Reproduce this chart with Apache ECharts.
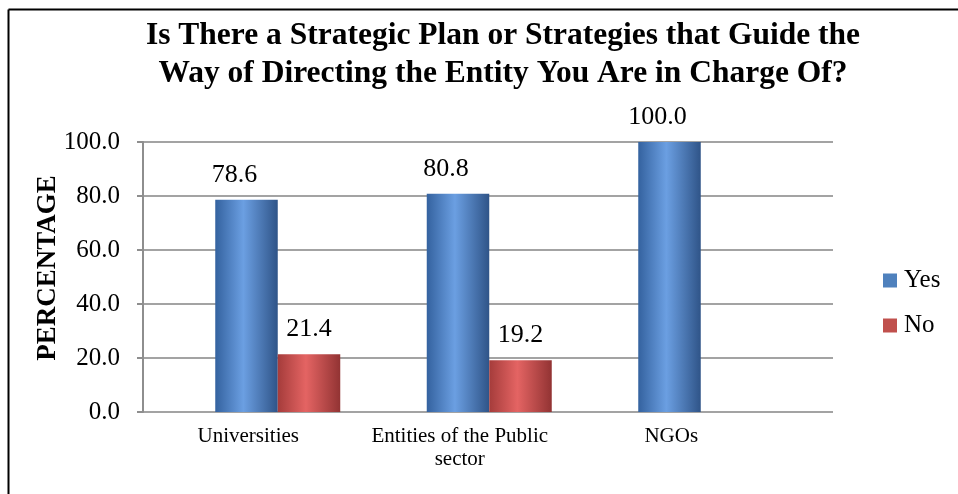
<!DOCTYPE html>
<html>
<head>
<meta charset="utf-8">
<script src="https://cdn.jsdelivr.net/npm/echarts@6/dist/echarts.min.js"></script>
<style>
  html, body { margin: 0; padding: 0; background: #fff; }
  #chart { width: 958px; height: 494px; }
</style>
</head>
<body>
<div id="chart"></div>
<script>
// ---- data ----
const titleLines = ['Is There a Strategic Plan or Strategies that Guide the', 'Way of Directing the Entity You Are in Charge Of?'];
const yAxisTitle = 'PERCENTAGE';
const categories = ['Universities', 'Entities of the Public\nsector', 'NGOs'];
const seriesNames = ['Yes', 'No'];
const yesValues = [78.6, 80.8, 100.0];
const noValues = [21.4, 19.2, null];
const yMin = 0, yMax = 100, yStep = 20;

const SERIF = 'Liberation Serif';

function grad(c0, c1, c2) {
  return new echarts.graphic.LinearGradient(0, 0, 1, 0, [
    { offset: 0, color: c0 },
    { offset: 0.45, color: c1 },
    { offset: 1, color: c2 }
  ]);
}

const chart = echarts.init(document.getElementById('chart'), null, { renderer: 'canvas' });

const option = {
  backgroundColor: '#fff',
  animation: false,
  textStyle: { fontFamily: SERIF, color: '#000' },
  grid: [
    { left: 143, right: 125, top: 142, bottom: 82, outerBoundsMode: 'none' },
    { left: 172, width: 634.5, top: 142, bottom: 82, outerBoundsMode: 'none' }
  ],
  legend: {
    orient: 'vertical',
    left: 883,
    top: 268,
    padding: 0,
    itemWidth: 14,
    itemHeight: 14,
    itemGap: 20,
    icon: 'rect',
    textStyle: { fontFamily: SERIF, fontSize: 25, color: '#000', padding: [0, 0, 0, 2] },
    data: [
      { name: seriesNames[0], itemStyle: { color: '#4f81bd' } },
      { name: seriesNames[1], itemStyle: { color: '#c0504d' } }
    ]
  },
  xAxis: [
    { gridIndex: 0, type: 'category', data: categories, show: false },
    {
      gridIndex: 1, type: 'category', data: categories,
      axisLine: { show: false }, axisTick: { show: false },
      axisLabel: {
        interval: 0, margin: 13, fontFamily: SERIF, fontSize: 21, lineHeight: 23,
        color: '#000', padding: [0, 59, 0, 0]
      }
    }
  ],
  yAxis: [
    {
      gridIndex: 0, type: 'value', min: yMin, max: yMax, interval: yStep,
      axisLine: { show: true, lineStyle: { color: '#8e8e8e', width: 2 } },
      axisTick: { show: true, length: 6, lineStyle: { color: '#8e8e8e', width: 2 } },
      axisLabel: {
        margin: 23, fontFamily: SERIF, fontSize: 25, color: '#000',
        formatter: v => v.toFixed(1)
      },
      splitLine: { show: true, lineStyle: { color: '#a3a3a3', width: 2 } }
    },
    { gridIndex: 1, type: 'value', min: yMin, max: yMax, interval: yStep, show: false }
  ],
  series: [
    {
      name: seriesNames[0], type: 'bar', xAxisIndex: 1, yAxisIndex: 1,
      data: yesValues, barWidth: 62.5, barGap: '0%',
      itemStyle: { color: grad('#34629f', '#6b9fe2', '#2f5488') },
      label: {
        show: true, position: 'top', distance: 12, offset: [-12, 0],
        fontFamily: SERIF, fontSize: 26, color: '#000',
        formatter: p => p.value.toFixed(1)
      }
    },
    {
      name: seriesNames[1], type: 'bar', xAxisIndex: 1, yAxisIndex: 1,
      data: noValues, barWidth: 62.5, barGap: '0%',
      itemStyle: { color: grad('#a53c3b', '#e46463', '#923333') },
      label: {
        show: true, position: 'top', distance: 12,
        fontFamily: SERIF, fontSize: 26, color: '#000',
        formatter: p => p.value == null ? '' : p.value.toFixed(1)
      }
    }
  ],
  graphic: [
    {
      type: 'line', silent: true,
      shape: { x1: 8.5, y1: 9.5, x2: 958, y2: 9.5 },
      style: { stroke: '#000', lineWidth: 2 }
    },
    {
      type: 'line', silent: true,
      shape: { x1: 8.5, y1: 9.5, x2: 8.5, y2: 494 },
      style: { stroke: '#000', lineWidth: 2 }
    },
    {
      type: 'text', silent: true,
      x: 503, y: 55,
      style: {
        text: titleLines.join('\n'),
        fontFamily: SERIF, fontSize: 31.5, fontWeight: 'bold',
        lineHeight: 38.5, fill: '#000',
        textAlign: 'center', textVerticalAlign: 'middle'
      }
    },
    {
      type: 'text', silent: true,
      x: 48, y: 268, rotation: Math.PI / 2,
      style: {
        text: yAxisTitle,
        fontFamily: SERIF, fontSize: 27, fontWeight: 'bold', fill: '#000',
        textAlign: 'center', textVerticalAlign: 'middle'
      }
    }
  ]
};

chart.setOption(option);
</script>
</body>
</html>
